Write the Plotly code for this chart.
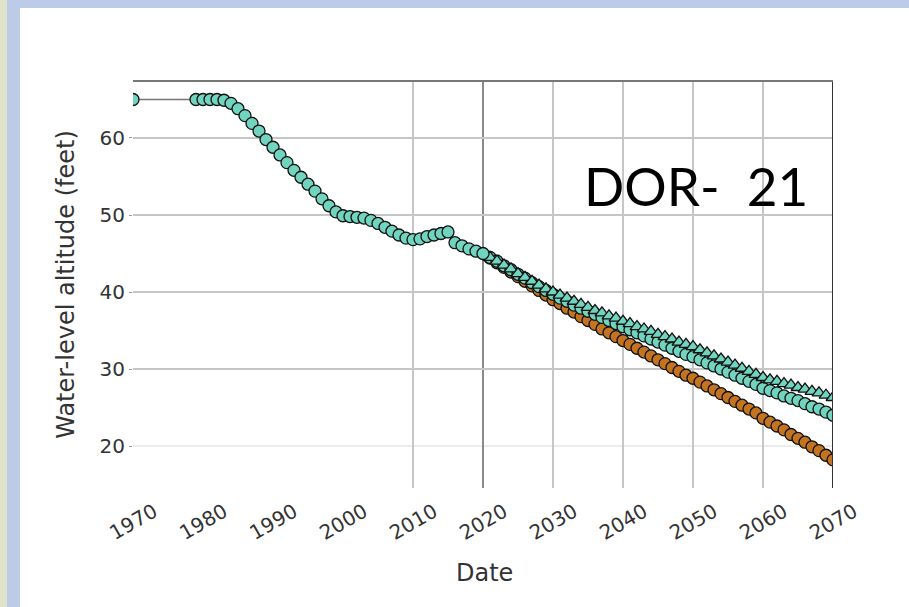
import plotly.graph_objects as go

# ---------------- data ----------------
hist_years = [1970, 1979, 1980, 1981, 1982, 1983, 1984, 1985, 1986, 1987, 1988, 1989,
              1990, 1991, 1992, 1993, 1994, 1995, 1996, 1997, 1998, 1999, 2000, 2001,
              2002, 2003, 2004, 2005, 2006, 2007, 2008, 2009, 2010, 2011, 2012, 2013,
              2014, 2015, 2016, 2017, 2018, 2019, 2020]
hist_level = [65.0, 65.0, 65.0, 65.0, 65.0, 64.9, 64.5, 63.8, 62.9, 61.9, 60.9, 59.8,
              58.8, 57.8, 56.8, 55.8, 54.9, 54.0, 53.1, 52.1, 51.2, 50.4, 49.9, 49.8,
              49.7, 49.6, 49.3, 48.9, 48.4, 47.9, 47.4, 47.0, 46.8, 46.9, 47.2, 47.4,
              47.6, 47.8, 46.4, 46.0, 45.6, 45.3, 45.0]

proj_years = list(range(2021, 2071))
proj_low = [44.4, 43.8, 43.2, 42.6, 42.0, 41.4, 40.8, 40.2, 39.6, 39.0,
            38.5, 37.9, 37.4, 36.8, 36.3, 35.8, 35.2, 34.7, 34.2, 33.7,
            33.2, 32.7, 32.2, 31.7, 31.2, 30.7, 30.2, 29.7, 29.2, 28.8,
            28.3, 27.8, 27.3, 26.8, 26.3, 25.8, 25.3, 24.8, 24.3, 23.6,
            23.1, 22.6, 22.1, 21.5, 21.0, 20.5, 19.9, 19.4, 18.8, 18.2]
proj_mid = [44.5, 44.0, 43.4, 42.9, 42.3, 41.8, 41.2, 40.7, 40.2, 39.7,
            39.2, 38.8, 38.3, 37.9, 37.5, 37.1, 36.7, 36.3, 35.9, 35.5,
            35.1, 34.7, 34.3, 33.9, 33.5, 33.1, 32.7, 32.3, 31.9, 31.6,
            31.2, 30.8, 30.4, 30.0, 29.6, 29.2, 28.8, 28.4, 28.0, 27.5,
            27.2, 26.9, 26.5, 26.2, 25.9, 25.5, 25.1, 24.8, 24.4, 24.0]
proj_high = [44.5, 44.0, 43.5, 43.0, 42.4, 41.9, 41.4, 40.9, 40.4, 40.0,
             39.6, 39.2, 38.8, 38.4, 38.0, 37.6, 37.3, 36.9, 36.6, 36.2,
             35.9, 35.5, 35.2, 34.9, 34.5, 34.2, 33.9, 33.5, 33.2, 32.9,
             32.5, 32.1, 31.7, 31.3, 30.9, 30.5, 30.1, 29.7, 29.3, 28.9,
             28.6, 28.4, 28.1, 27.9, 27.6, 27.4, 27.1, 26.9, 26.6, 26.3]

x_ticks = list(range(1970, 2080, 10))
x_tick_labels = [str(v) for v in x_ticks]
y_ticks = [20, 30, 40, 50, 60]
y_tick_labels = [str(v) for v in y_ticks]
grid_years = [2010, 2030, 2040, 2050, 2060]
site_label = "DOR-\u00a0\u00a021"
x_title = "Date"
y_title = "Water-level altitude (feet)"

# ---------------- styling ----------------
TEAL = "#70d4be"
BROWN = "#c4731f"
FONT = "DejaVu Sans"
MS = 12

fig = go.Figure()

fig.add_trace(go.Scatter(
    x=proj_years, y=proj_low, mode="markers", cliponaxis=True,
    marker=dict(symbol="circle", size=MS, color=BROWN, line=dict(color="#111", width=1.3)),
    showlegend=False))
fig.add_trace(go.Scatter(
    x=proj_years, y=proj_mid, mode="markers", cliponaxis=True,
    marker=dict(symbol="circle", size=MS, color=TEAL, line=dict(color="#111", width=1.3)),
    showlegend=False))
fig.add_trace(go.Scatter(
    x=proj_years, y=proj_high, mode="markers", cliponaxis=True,
    marker=dict(symbol="triangle-up", size=MS, color=TEAL, line=dict(color="#111", width=1.3)),
    showlegend=False))
fig.add_trace(go.Scatter(
    x=hist_years, y=hist_level, mode="lines+markers", cliponaxis=True,
    line=dict(color="#777", width=1.5),
    marker=dict(symbol="circle", size=MS, color=TEAL, line=dict(color="#111", width=1.3)),
    showlegend=False))

fig.update_xaxes(
    range=[1970, 2070], tickvals=x_ticks, showticklabels=False, showgrid=False,
    zeroline=False, ticks="",
    minor=dict(tickvals=grid_years, showgrid=True, gridcolor="#c6c6c6", gridwidth=2),
)
fig.update_yaxes(
    range=[14.55, 67.4], tickvals=y_ticks, ticktext=y_tick_labels, showgrid=False,
    zeroline=False, ticks="outside", ticklen=3, tickcolor="#999",
    tickfont=dict(family=FONT, size=20, color="#333"),
    minor=dict(tickvals=[30, 40, 50, 60], showgrid=True, gridcolor="#c6c6c6", gridwidth=2),
    title=dict(text=y_title, font=dict(family=FONT, size=24, color="#333"), standoff=18),
)

shapes = [
    # slide frame
    dict(type="rect", xref="paper", yref="paper", x0=-0.2, x1=1.12, y0=(488 - 8) / 407, y1=1.21,
         fillcolor="#bccbe8", line=dict(width=0), layer="below"),
    dict(type="rect", xref="paper", yref="paper", x0=-0.2, x1=(20 - 133) / 700, y0=-0.3, y1=1.21,
         fillcolor="#bccbe8", line=dict(width=0), layer="below"),
    dict(type="rect", xref="paper", yref="paper", x0=-0.2, x1=(7 - 133) / 700, y0=-0.3, y1=1.21,
         fillcolor="#dfe3c9", line=dict(width=0), layer="below"),
    # faint 20 ft line
    dict(type="line", xref="paper", yref="y", x0=0, x1=1, y0=20, y1=20,
         line=dict(color="#ececec", width=2), layer="below"),
    # darker 2020 line, right border, top border
    dict(type="line", xref="x", yref="paper", x0=2020, x1=2020, y0=0, y1=1,
         line=dict(color="#8a8a8a", width=2), layer="below"),
    dict(type="line", xref="x", yref="paper", x0=2070, x1=2070, y0=0, y1=1,
         line=dict(color="#333", width=2)),
    dict(type="line", xref="paper", yref="paper", x0=0, x1=1, y0=1, y1=1,
         line=dict(color="#777", width=2)),
]

annotations = []
for v, t in zip(x_ticks, x_tick_labels):
    annotations.append(dict(x=v, y=(488 - 522) / 407, xref="x", yref="paper", text=t,
                            showarrow=False, textangle=-30, xanchor="center", yanchor="middle",
                            font=dict(family=FONT, size=20, color="#333")))
annotations.append(dict(x=(484 - 133) / 700, y=(488 - 573) / 407, xref="paper", yref="paper",
                        text=x_title, showarrow=False, xanchor="center", yanchor="middle",
                        font=dict(family=FONT, size=24, color="#333")))
annotations.append(dict(x=(696 - 133) / 700, y=(488 - 185) / 407, xref="paper", yref="paper",
                        text=site_label, showarrow=False, xanchor="center", yanchor="middle",
                        font=dict(family="Lato", size=53, color="#000")))

fig.update_layout(
    width=909, height=607,
    margin=dict(l=133, r=76, t=81, b=119),
    paper_bgcolor="white", plot_bgcolor="white",
    shapes=shapes, annotations=annotations,
)

fig.write_html(
    "out.html",
    config={"displayModeBar": False},
    post_script="document.body.style.margin='0';document.body.style.overflow='hidden';",
)
